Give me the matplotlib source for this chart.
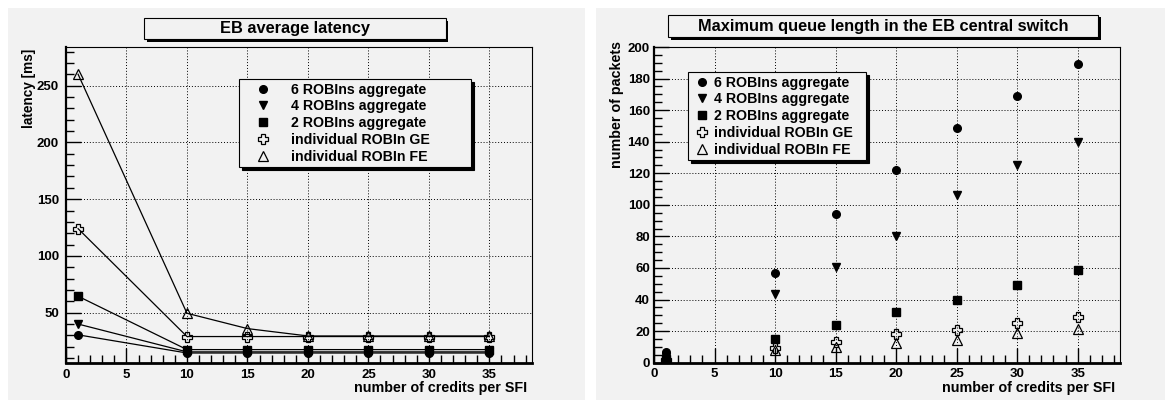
import matplotlib
matplotlib.use("Agg")
import matplotlib.pyplot as plt
from matplotlib.patches import Rectangle
from matplotlib.ticker import MultipleLocator

plt.rcParams["font.family"] = ["Liberation Sans", "DejaVu Sans"]
plt.rcParams["font.weight"] = "bold"

W, H = 1171, 401

# data
credits = [1, 10, 15, 20, 25, 30, 35]
labels = ["6 ROBIns aggregate", "4 ROBIns aggregate", "2 ROBIns aggregate",
          "individual ROBIn GE", "individual ROBIn FE"]

latency_6 = [30.5, 14.5, 14.5, 14.5, 14.5, 14.5, 14.5]
latency_4 = [40, 15.5, 15.5, 15.5, 15.5, 15.5, 15.5]
latency_2 = [64.5, 17.5, 17.5, 17.5, 17.5, 17.5, 17.5]
latency_ge = [124, 29, 29, 29, 29, 29, 29]
latency_fe = [260, 49.5, 36, 29.5, 29.5, 29.5, 29.5]

queue_6 = [7, 57, 94, 122, 149, 169, 189]
queue_4 = [3.5, 43.5, 60.5, 80, 106, 125, 140]
queue_2 = [2.5, 15, 24, 32, 40, 49, 59]
queue_ge = [1.5, 9, 13, 18, 21, 25, 29]
queue_fe = [0.5, 8, 10, 12.5, 14.5, 18.5, 21.5]

styles = [
    dict(marker="o", ms=5.5, mfc="black"),
    dict(marker="v", ms=5.5, mfc="black"),
    dict(marker="s", ms=5.5, mfc="black"),
    dict(marker="P", ms=7, mfc="none", mew=0.9),
    dict(marker="^", ms=7, mfc="none", mew=0.9),
]

panel_bg = "#f2f2f2"


def fx(x):
    return x / W


def fy(y):
    return 1 - y / H


def rect(x0, y0, x1, y1):
    # pixel box -> figure fraction (left, bottom, width, height)
    return (fx(x0), fy(y1), (x1 - x0) / W, (y1 - y0) / H)


fig = plt.figure(figsize=(W / 100, H / 100), dpi=100, facecolor="white")

# grey pads
for x0, x1 in [(8, 585), (596, 1165)]:
    l, b, w, h = rect(x0, 8, x1, 400)
    fig.patches.append(Rectangle((l, b), w, h, transform=fig.transFigure,
                                 facecolor=panel_bg, edgecolor="none", zorder=-10))


def title_box(text, x0, y0, x1, y1):
    l, b, w, h = rect(x0, y0, x1, y1)
    sh = 2.5
    fig.patches.append(Rectangle((l + sh / W, b - sh / H), w, h, transform=fig.transFigure,
                                 facecolor="black", edgecolor="none", zorder=1))
    fig.patches.append(Rectangle((l, b), w, h, transform=fig.transFigure,
                                 facecolor=panel_bg, edgecolor="black", lw=0.8, zorder=2))
    fig.text(l + w / 2, b + h / 2, text, ha="center", va="center",
             fontsize=11.8, fontweight="bold", zorder=3)


def style_axes(ax, ymajor, yminor, pad_y):
    ax.set_facecolor(panel_bg)
    ax.set_xlim(0, 38.5)
    ax.xaxis.set_major_locator(MultipleLocator(5))
    ax.xaxis.set_minor_locator(MultipleLocator(1))
    ax.yaxis.set_major_locator(MultipleLocator(ymajor))
    ax.yaxis.set_minor_locator(MultipleLocator(yminor))
    ax.tick_params(which="both", direction="in", top=False, right=False,
                   labelsize=9.5, width=1)
    ax.tick_params(which="major", length=11)
    ax.tick_params(which="minor", length=6)
    ax.tick_params(axis="y", pad=pad_y)
    ax.tick_params(axis="x", pad=4)
    ax.grid(True, which="major", color="black", linestyle=(0, (1, 2)), linewidth=0.7)
    ax.set_axisbelow(True)
    ax.spines["left"].set_linewidth(1.6)
    ax.spines["bottom"].set_linewidth(2.0)
    ax.spines["top"].set_linewidth(0.8)
    ax.spines["right"].set_linewidth(0.8)


def add_legend(ax, x0, y0, x1, y1, hl, htp):
    l, b, w, h = rect(x0, y0, x1, y1)
    leg = ax.legend(loc="upper left", bbox_to_anchor=(l, b, w, h),
                    bbox_transform=fig.transFigure, mode="expand",
                    borderaxespad=0, borderpad=0.25, labelspacing=0.2,
                    handlelength=hl, handletextpad=htp,
                    fontsize=10.2, frameon=True, fancybox=False,
                    facecolor=panel_bg, edgecolor="black", framealpha=1,
                    shadow={"ox": 2.2, "oy": -2.2, "color": "black", "alpha": 1})
    leg.get_frame().set_linewidth(0.8)
    for t in leg.get_texts():
        t.set_fontweight("bold")


# left: EB average latency
ax1 = fig.add_axes(rect(66, 47, 531.7, 363))
style_axes(ax1, 50, 10, 5)
ax1.set_ylim(5.7, 284)
for ys, lab, st in zip([latency_6, latency_4, latency_2, latency_ge, latency_fe], labels, styles):
    ax1.plot(credits, ys, "-", color="black", lw=0.9, zorder=3)
    ax1.plot(credits, ys, ls="none", color="black", label=lab, zorder=4, **st)
ax1.set_xlabel("number of credits per SFI", fontsize=10.3, fontweight="bold", loc="right")
ax1.xaxis.set_label_coords(1 - 5 / 465.7, -0.057)
ax1.set_ylabel("latency [ms]", fontsize=9.8, fontweight="bold", loc="top")
ax1.yaxis.set_label_coords(-0.0644, 0.994)
add_legend(ax1, 239, 79, 471, 173, 2.9, 0.55)
title_box("EB average latency", 144, 18, 445.7, 39)

# right: maximum queue length
ax2 = fig.add_axes(rect(654, 47, 1120, 362.7))
style_axes(ax2, 20, 5, 3)
ax2.set_ylim(0, 200)
for ys, lab, st in zip([queue_6, queue_4, queue_2, queue_ge, queue_fe], labels, styles):
    ax2.plot(credits, ys, ls="none", color="black", label=lab, zorder=4, **st)
ax2.set_xlabel("number of credits per SFI", fontsize=10.3, fontweight="bold", loc="right")
ax2.xaxis.set_label_coords(1 - 5 / 466, -0.057)
ax2.set_ylabel("number of packets", fontsize=10.3, fontweight="bold", loc="top")
ax2.yaxis.set_label_coords(-0.0644, 1.019)
add_legend(ax2, 688, 72, 866, 166, 1.45, 0.12)
title_box("Maximum queue length in the EB central switch", 668, 15, 1098, 37)

# tick labels are only fully built after a draw
fig.canvas.draw()
for ax in (ax1, ax2):
    plt.setp(ax.get_xticklabels() + ax.get_yticklabels(), fontweight="bold")

fig.savefig("out.png", dpi=100, facecolor="white")
